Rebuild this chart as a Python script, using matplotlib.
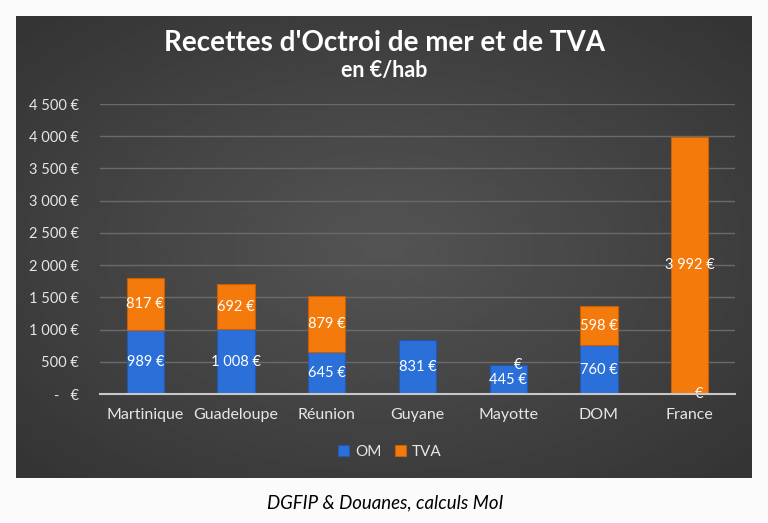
import matplotlib.pyplot as plt
import numpy as np

categories = ['Martinique', 'Guadeloupe', 'Réunion', 'Guyane', 'Mayotte', 'DOM', 'France']
om = [989, 1008, 645, 831, 445, 760, 0]
tva = [817, 692, 879, np.nan, 0, 598, 3992]   # nan = pas de valeur (pas d'étiquette)
yticks = [0, 500, 1000, 1500, 2000, 2500, 3000, 3500, 4000, 4500]

blue = '#2b6fd9'
orange = '#f57a0c'
txt = '#e6e6e6'

plt.rcParams['font.family'] = ['Lato', 'DejaVu Sans']


def euro(v):
    return f"{int(v):,}".replace(',', ' ') + ' €'


fig = plt.figure(figsize=(7.68, 5.23), dpi=100)
fig.patch.set_facecolor('#fbfbfb')

# dark panel with a soft radial gradient
bg = fig.add_axes([16 / 768, 45 / 523, 736 / 768, 462 / 523])
yy, xx = np.mgrid[-1:1:200j, -1:1:300j]
r = np.sqrt(xx ** 2 + yy ** 2)
bg.imshow(0.33 - 0.09 * np.clip(r, 0, 1.4), cmap='gray', vmin=0, vmax=1,
          aspect='auto', extent=[0, 1, 0, 1])
bg.set_axis_off()

ax = fig.add_axes([100 / 768, 129 / 523, 635 / 768, 290 / 523])
ax.set_facecolor('none')

x = np.arange(len(categories))
w = 0.41
om_arr = np.array(om, dtype=float)
tva_arr = np.nan_to_num(np.array(tva, dtype=float))

# no outline on empty segments
ax.bar(x, om_arr, w, color=blue, edgecolor='#2358b0',
       linewidth=[0.8 if v > 0 else 0 for v in om_arr], label='OM', zorder=3)
ax.bar(x, tva_arr, w, bottom=om_arr, color=orange, edgecolor='#c85f05',
       linewidth=[0.8 if v > 0 else 0 for v in tva_arr], label='TVA', zorder=3)


def put(xv, yv, v):
    if v == 0:
        # Excel accounting zero: only the euro sign remains visible
        ax.annotate('€', (xv, yv), xytext=(7, 0), textcoords='offset points',
                    ha='center', va='center', color='white', fontsize=10.5, zorder=4)
    else:
        ax.text(xv, yv, euro(v), ha='center', va='center',
                color='white', fontsize=10.5, zorder=4)


for i in range(len(categories)):
    put(x[i], om_arr[i] / 2, om[i])
    if not np.isnan(tva[i]):
        put(x[i], om_arr[i] + tva_arr[i] / 2, tva[i])

ax.set_xlim(-0.5, len(categories) - 0.5)
ax.set_ylim(0, 4500)
ax.set_yticks(yticks)
ax.set_yticklabels([euro(v) if v else '-   €' for v in yticks])
ax.set_xticks(x)
ax.set_xticklabels(categories, fontsize=11.5)
ax.tick_params(axis='both', length=0, colors=txt)
ax.tick_params(axis='y', pad=15, labelsize=10.5)
ax.tick_params(axis='x', pad=10)
ax.grid(axis='y', color='#6a6a6a', linewidth=1, zorder=0)
for s in ['top', 'right', 'left']:
    ax.spines[s].set_visible(False)
ax.spines['bottom'].set_color('#c8c8c8')
ax.spines['bottom'].set_linewidth(1.5)
ax.spines['bottom'].set_zorder(5)

fig.text(0.5, 0.918, "Recettes d'Octroi de mer et de TVA", ha='center', va='center',
         color='white', fontsize=20, fontweight='bold')
fig.text(0.5, 0.866, "en €/hab", ha='center', va='center',
         color='white', fontsize=15.5, fontweight='bold')

fig.legend(loc='center', bbox_to_anchor=(0.508, 0.136), ncol=2, frameon=False,
           labelcolor=txt, fontsize=11, handlelength=0.7, handleheight=0.7,
           columnspacing=0.9, handletextpad=0.4)

fig.text(0.502, 0.038, "DGFIP & Douanes, calculs MoI", ha='center', va='center',
         color='black', fontsize=13.4, style='italic')

fig.savefig('out.png', dpi=100, facecolor=fig.get_facecolor())
